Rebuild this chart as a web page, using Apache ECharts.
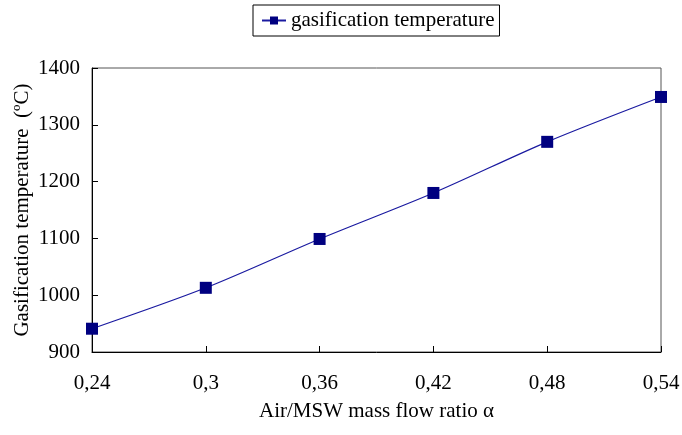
<!DOCTYPE html>
<html><head><meta charset="utf-8">
<script src="https://cdn.jsdelivr.net/npm/echarts@6/dist/echarts.min.js"></script>
<style>html,body{margin:0;padding:0;background:#fff}#c{width:682px;height:435px}</style>
</head><body><div id="c"></div>
<script>
const categories = ['0,24','0,3','0,36','0,42','0,48','0,54'];
const temperature = [941, 1013, 1099, 1180, 1270, 1349];
const yTicks = {min: 900, max: 1400, interval: 100};
const seriesName = 'gasification temperature';
const FONT = '"Liberation Serif","Times New Roman",serif';
const chart = echarts.init(document.getElementById('c'));
chart.setOption({
  animation: false,
  backgroundColor: '#fff',
  legend: {
    left: 253, top: 5,
    padding: [5, 5, 5, 8],
    itemWidth: 24, itemHeight: 10, itemGap: 5,
    borderColor: '#000', borderWidth: 1,
    textStyle: {fontFamily: FONT, fontSize: 21, color: '#000'},
    data: [seriesName]
  },
  grid: {left: 92, right: 21, top: 68, bottom: 83, show: true, borderColor: '#555', borderWidth: 1,
         containLabel: false, outerBoundsMode: 'none'},
  xAxis: {
    type: 'category', data: categories, boundaryGap: false,
    name: 'Air/MSW mass flow ratio α', nameLocation: 'middle', nameGap: 49,
    nameTextStyle: {fontFamily: FONT, fontSize: 21, color: '#000'},
    axisLine: {lineStyle: {color: '#000', width: 1}},
    axisTick: {inside: true, length: 6, lineStyle: {color: '#000'}},
    axisLabel: {fontFamily: FONT, fontSize: 21, color: '#000', margin: 21},
    splitLine: {show: false}
  },
  yAxis: {
    type: 'value', min: yTicks.min, max: yTicks.max, interval: yTicks.interval,
    name: 'Gasification temperature  (ºC)', nameLocation: 'middle', nameGap: 59,
    nameMoveOverlap: false,
    nameTextStyle: {fontFamily: FONT, fontSize: 21, color: '#000'},
    axisLine: {show: true, lineStyle: {color: '#000', width: 1}},
    axisTick: {show: true, inside: true, length: 6, lineStyle: {color: '#000'}},
    axisLabel: {fontFamily: FONT, fontSize: 21, color: '#000', margin: 12, formatter: v => String(v)},
    splitLine: {show: false}
  },
  series: [{
    name: seriesName, type: 'line', data: temperature, smooth: 0.3,
    symbol: 'rect', symbolSize: 12,
    lineStyle: {color: '#1a1aa0', width: 1.2},
    itemStyle: {color: '#000080'}
  }]
});
</script></body></html>
